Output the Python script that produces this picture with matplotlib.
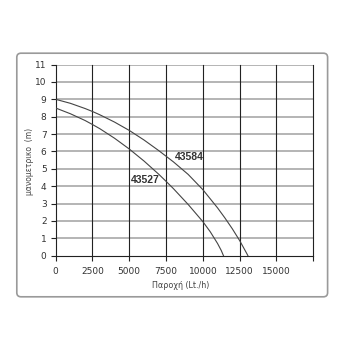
import matplotlib.pyplot as plt
from matplotlib.patches import FancyBboxPatch

# pump curves (flow in Lt/h, head in m)
q_43584 = [0, 1000, 2000, 2500, 3000, 4000, 5000, 6000, 7000, 8000, 9000,
           10000, 11000, 11500, 12000, 12500, 13000, 13060]
h_43584 = [9.0, 8.77, 8.47, 8.30, 8.11, 7.69, 7.21, 6.66, 6.05, 5.4, 4.68,
           3.8, 2.75, 2.17, 1.55, 0.87, 0.1, 0.0]

q_43527 = [0, 1000, 2000, 2500, 3000, 4000, 5000, 6000, 7000, 7500, 8000,
           9000, 10000, 10500, 11000, 11250, 11400]
h_43527 = [8.5, 8.17, 7.78, 7.55, 7.31, 6.76, 6.14, 5.45, 4.69, 4.28, 3.86,
           2.95, 1.96, 1.38, 0.7, 0.3, 0.0]

x_ticks = [0, 2500, 5000, 7500, 10000, 12500, 15000, 17500]
x_labels = ["0", "2500", "5000", "7500", "10000", "12500", "15000", ""]
y_ticks = list(range(0, 12))

fig = plt.figure(figsize=(3.5, 3.5), dpi=100)

# rounded frame around the chart
frame = FancyBboxPatch((0.048, 0.152), 0.888, 0.696,
                       boxstyle="round,pad=0,rounding_size=0.012",
                       transform=fig.transFigure, facecolor="white",
                       edgecolor="#9a9a9a", linewidth=1.2, zorder=-5)
fig.patches.append(frame)

ax = fig.add_axes([0.159, 0.2695, 0.736, 0.546])
ax.set_facecolor("none")
ax.set_zorder(2)

ax.set_xlim(0, 17500)
ax.set_ylim(0, 11)
ax.set_xticks(x_ticks)
ax.set_xticklabels(x_labels)
ax.set_yticks(y_ticks)

for y in y_ticks[1:]:
    ax.axhline(y, color="#a8a8a8", lw=1.2, zorder=1)
for x in x_ticks[1:]:
    ax.axvline(x, color="#222222", lw=0.8, zorder=1, clip_on=False)

for side in ["top", "right"]:
    ax.spines[side].set_visible(False)
ax.spines["left"].set_color("#222222")
ax.spines["bottom"].set_color("#222222")
ax.spines["left"].set_linewidth(0.8)
ax.spines["bottom"].set_linewidth(0.8)

ax.tick_params(axis="both", direction="out", length=3.5, width=0.8,
               color="#222222", labelsize=6.5, labelcolor="#333333", pad=3)
ax.tick_params(axis="x", pad=5)

ax.plot(q_43584, h_43584, color="#444444", lw=0.8, zorder=3)
ax.plot(q_43527, h_43527, color="#444444", lw=0.8, zorder=3)

ax.text(8100, 5.69, "43584", fontsize=7.5, fontweight="bold",
        color="#333333", va="center", ha="left",
        family="Liberation Sans", zorder=4)
ax.text(5100, 4.34, "43527", fontsize=7.5, fontweight="bold",
        color="#333333", va="center", ha="left",
        family="Liberation Sans", zorder=4)

fig.text(0.083, 0.54, "μανομετρικο  (m)", rotation=90, fontsize=5.5,
         color="#444444", ha="center", va="center")
fig.text(0.516, 0.184, "Παροχή (Lt./h)", fontsize=5.8, color="#444444",
         ha="center", va="center")

fig.savefig("out.png", dpi=100)
